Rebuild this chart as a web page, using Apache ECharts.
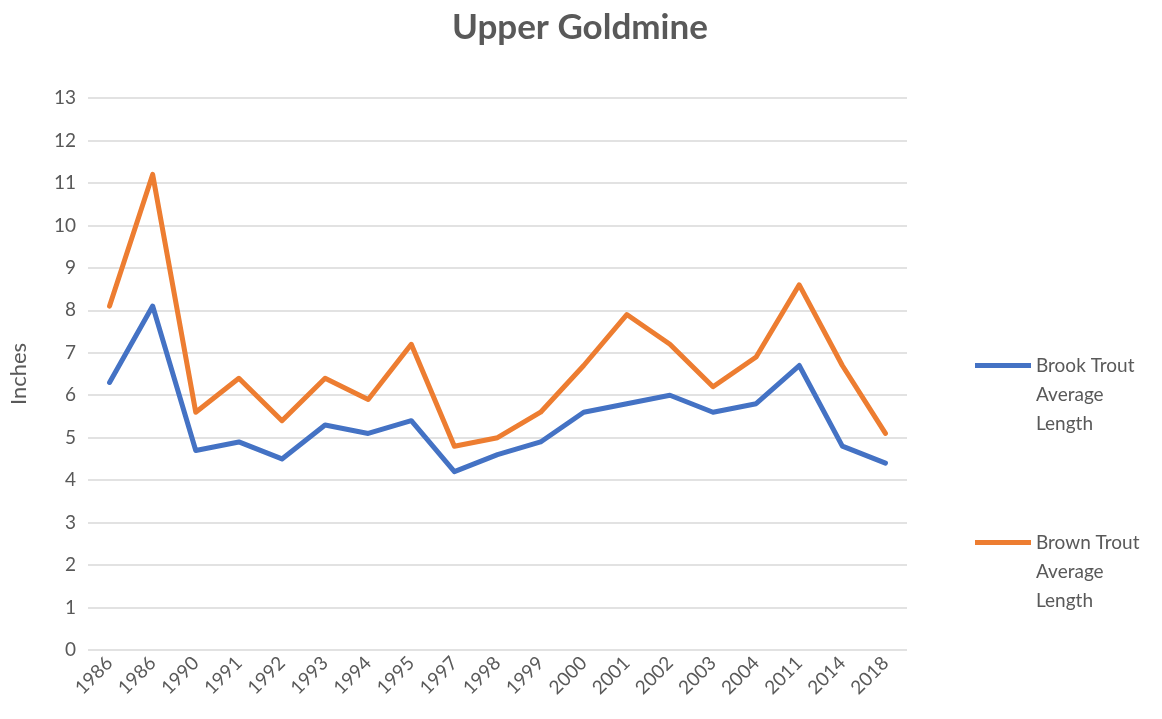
<!DOCTYPE html>
<html>
<head>
<meta charset="utf-8">
<script src="https://cdn.jsdelivr.net/npm/echarts@6/dist/echarts.min.js"></script>
<style>
html, body { margin: 0; padding: 0; background: #fff; }
#main { width: 1162px; height: 719px; }
</style>
</head>
<body>
<div id="main"></div>
<script>
// data
var years = ['1986', '1986', '1990', '1991', '1992', '1993', '1994', '1995', '1997', '1998',
  '1999', '2000', '2001', '2002', '2003', '2004', '2011', '2014', '2018'];
var brookTrout = [6.3, 8.1, 4.7, 4.9, 4.5, 5.3, 5.1, 5.4, 4.2, 4.6, 4.9, 5.6, 5.8, 6.0, 5.6, 5.8, 6.7, 4.8, 4.4];
var brownTrout = [8.1, 11.2, 5.6, 6.4, 5.4, 6.4, 5.9, 7.2, 4.8, 5.0, 5.6, 6.7, 7.9, 7.2, 6.2, 6.9, 8.6, 6.7, 5.1];
var brookName = 'Brook Trout Average Length';
var brownName = 'Brown Trout Average Length';

var font = 'Lato';
var grey = '#595959';

// first line sits level with the icon, like Excel does it
function legendFmt(name) {
  return '\n\n' + name.replace(' Average ', '\nAverage\n');
}

function makeLegend(name, top) {
  return {
    data: [name],
    left: 975,
    top: top,
    padding: 0,
    icon: 'rect',
    itemWidth: 56,
    itemHeight: 5,
    itemGap: 5,
    formatter: legendFmt,
    textStyle: {
      fontFamily: font,
      fontSize: 19,
      color: grey,
      lineHeight: 29
    }
  };
}

var chart = echarts.init(document.getElementById('main'));
chart.setOption({
  animation: false,
  title: {
    text: 'Upper Goldmine',
    left: 447,
    top: 5,
    textStyle: { fontFamily: font, fontSize: 35, fontWeight: 'bold', color: grey }
  },
  legend: [makeLegend(brookName, 293), makeLegend(brownName, 470)],
  grid: { left: 87, right: 255, top: 98, bottom: 69 },
  xAxis: {
    type: 'category',
    data: years,
    boundaryGap: true,
    axisLine: { show: false },
    axisTick: { show: false },
    axisLabel: { rotate: 45, fontFamily: font, fontSize: 19, color: grey, margin: 10, interval: 0 }
  },
  yAxis: {
    type: 'value',
    min: 0,
    max: 13,
    interval: 1,
    name: 'Inches',
    nameLocation: 'middle',
    nameGap: 58,
    nameTextStyle: { fontFamily: font, fontSize: 22, color: grey },
    axisLine: { show: false },
    axisTick: { show: false },
    axisLabel: { fontFamily: font, fontSize: 19, color: grey, margin: 12 },
    splitLine: { lineStyle: { color: '#D9D9D9', width: 1.5 } }
  },
  series: [
    {
      name: brookName,
      type: 'line',
      data: brookTrout,
      showSymbol: false,
      symbol: 'none',
      lineStyle: { color: '#4472C4', width: 5, cap: 'round', join: 'round' },
      itemStyle: { color: '#4472C4' }
    },
    {
      name: brownName,
      type: 'line',
      data: brownTrout,
      showSymbol: false,
      symbol: 'none',
      lineStyle: { color: '#ED7D31', width: 5, cap: 'round', join: 'round' },
      itemStyle: { color: '#ED7D31' }
    }
  ]
});
</script>
</body>
</html>
